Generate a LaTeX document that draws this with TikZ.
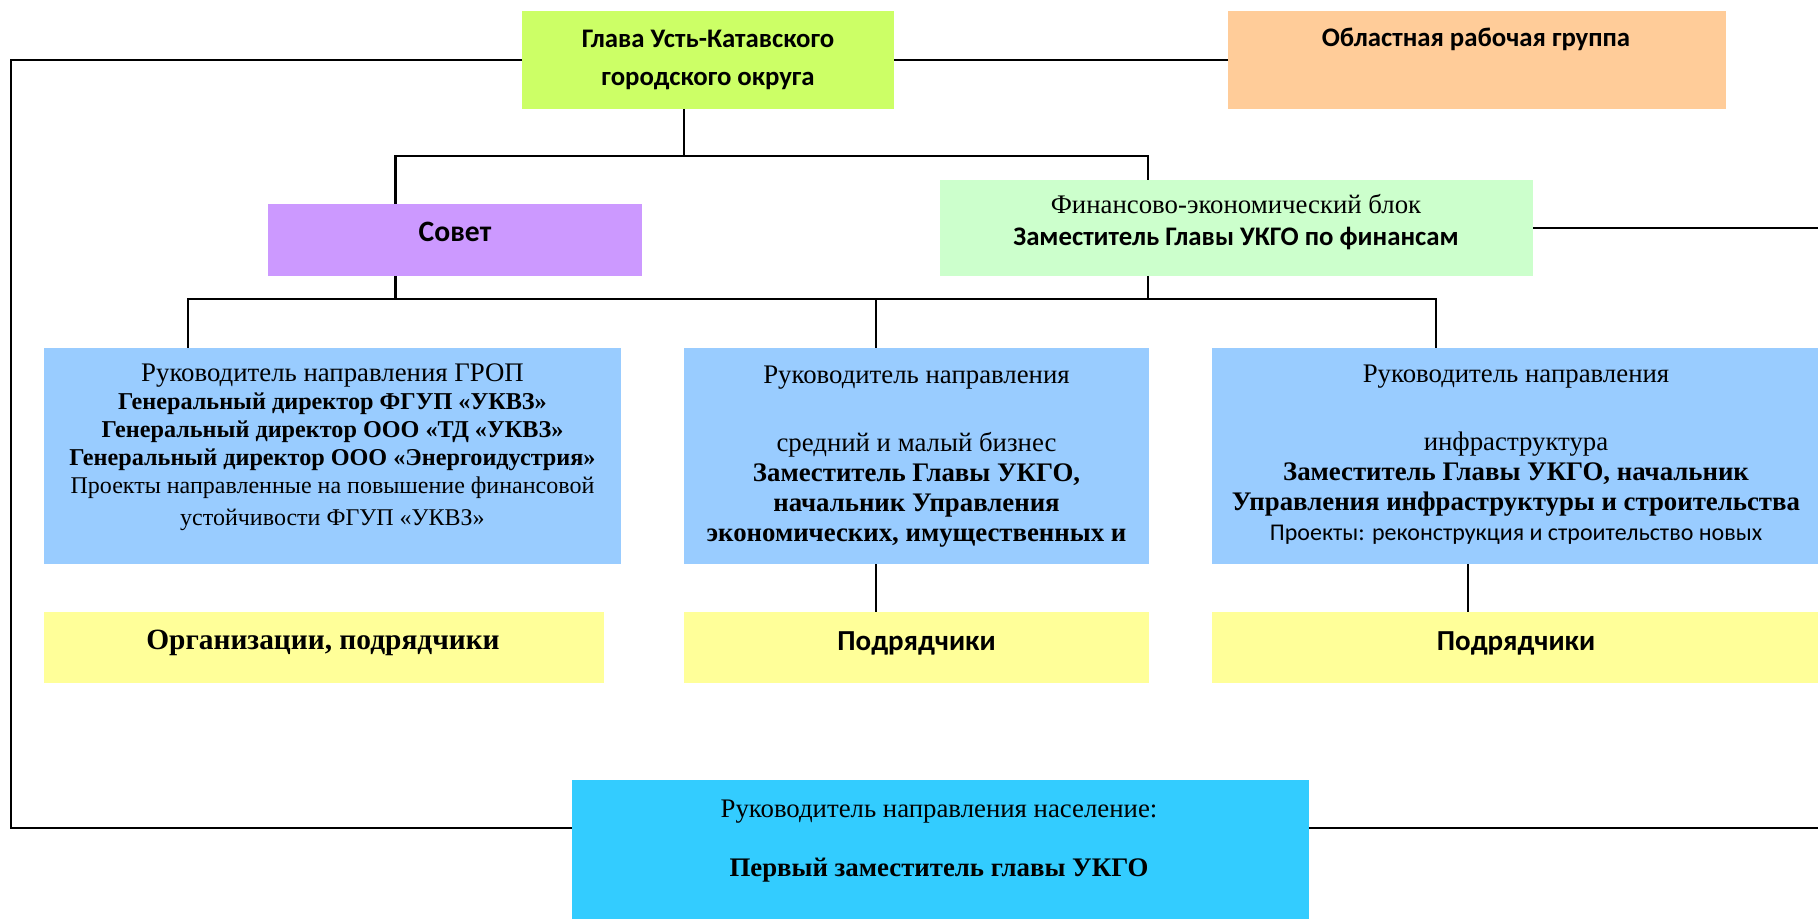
\documentclass[tikz,border=0pt]{standalone}
\usepackage{fontspec}
\setmainfont{Liberation Serif}
\newfontfamily\calibri{Carlito}
\definecolor{glavac}{HTML}{CCFF66}
\definecolor{oblc}{HTML}{FFCC99}
\definecolor{sovc}{HTML}{CC99FF}
\definecolor{finc}{HTML}{CCFFCC}
\definecolor{bluec}{HTML}{99CCFF}
\definecolor{yelc}{HTML}{FFFF99}
\definecolor{popc}{HTML}{33CCFF}
\begin{document}
\begin{tikzpicture}[x=0.5pt,y=-0.5pt,
  box/.style={inner sep=0pt, outer sep=0pt, anchor=north west, draw=none},
  conn/.style={line width=1.2pt, black, line join=miter},
  txt/.style={inner sep=0pt, outer sep=0pt, anchor=base, align=center}]
\useasboundingbox (0,0) rectangle (1818,919);
% boxes
\node[box, fill=glavac, minimum width=186pt, minimum height=49pt] (glava) at (522,11) {};
\node[box, fill=oblc, minimum width=249pt, minimum height=49pt] (oblast) at (1228,11) {};
\node[box, fill=sovc, minimum width=187pt, minimum height=36pt] (sovet) at (268,204) {};
\node[box, fill=finc, minimum width=296.5pt, minimum height=48pt] (fin) at (940,180) {};
\node[box, fill=bluec, minimum width=288.5pt, minimum height=108pt] (blue1) at (44,348) {};
\node[box, fill=bluec, minimum width=232.5pt, minimum height=108pt] (blue2) at (684,348) {};
\node[box, fill=bluec, minimum width=304pt, minimum height=108pt] (blue3) at (1212,348) {};
\node[box, fill=yelc, minimum width=280pt, minimum height=35.5pt] (yel1) at (44,612) {};
\node[box, fill=yelc, minimum width=232.5pt, minimum height=35.5pt] (yel2) at (684,612) {};
\node[box, fill=yelc, minimum width=304pt, minimum height=35.5pt] (yel3) at (1212,612) {};
\node[box, fill=popc, minimum width=368.5pt, minimum height=70pt] (popul) at (572,780) {};
% texts (anchor = baseline of the last line)
\node[txt, font=\calibri\bfseries\fontsize{13.4}{19}\selectfont] (tglava) at (708,86) {Глава Усть-Катавского\\городского округа};
\node[txt, font=\calibri\bfseries\fontsize{13.4}{15}\selectfont] (toblast) at (1476,46.7) {Областная рабочая группа};
\node[txt, font=\calibri\bfseries\fontsize{14.8}{16}\selectfont] (tsovet) at (455,241.7) {Совет};
\node[txt, font=\fontsize{13.4}{16.2}\selectfont] (tfin) at (1236,245.7) {Финансово-экономический блок\\{\calibri\bfseries\fontsize{13.4}{16.2}\selectfont Заместитель Главы УКГО по финансам}};
\node[txt, font=\fontsize{13.4}{14}\selectfont] (tblue1) at (332.5,525) {Руководитель направления ГРОП\\{\bfseries\fontsize{12.1}{14}\selectfont Генеральный директор ФГУП «УКВЗ»}\\{\bfseries\fontsize{12.1}{14}\selectfont Генеральный директор ООО «ТД «УКВЗ»}\\{\bfseries\fontsize{12.1}{14}\selectfont Генеральный директор ООО «Энергоидустрия»}\\{\fontsize{12}{14}\selectfont Проекты направленные на повышение финансовой}\\[2pt]{\fontsize{12}{14}\selectfont устойчивости ФГУП «УКВЗ»}};
\node[txt, font=\fontsize{13.4}{15}\selectfont] (tblue2) at (916.5,541.7) {Руководитель направления\\[19pt]средний и малый бизнес\\\textbf{Заместитель Главы УКГО,}\\\textbf{начальник Управления}\\\textbf{экономических, имущественных и}};
\node[txt, font=\fontsize{13.4}{15}\selectfont] (tblue3) at (1516,540.7) {Руководитель направления\\[19pt]инфраструктура\\\textbf{Заместитель Главы УКГО, начальник}\\\textbf{Управления инфраструктуры и строительства}\\{\calibri\fontsize{12}{15}\selectfont Проекты: реконструкция и строительство новых}};
\node[txt, font=\bfseries\fontsize{14.7}{17}\selectfont] (tyel1) at (323,649) {Организации, подрядчики};
\node[txt, font=\calibri\bfseries\fontsize{14.5}{16}\selectfont] (tyel2) at (916.5,650) {Подрядчики};
\node[txt, font=\calibri\bfseries\fontsize{14.5}{16}\selectfont] (tyel3) at (1516,650) {Подрядчики};
\node[txt, font=\fontsize{13.4}{15}\selectfont] (tpop) at (939,876.7) {Руководитель направления население:\\[14.85pt]{\bfseries\fontsize{13.4}{15}\selectfont Первый заместитель главы УКГО}};
% connector coordinates
\coordinate (bl) at (11,828);
\coordinate (br) at (1818,828);
\coordinate (re) at (1818,228);
\coordinate (bA) at (684,156);
\coordinate (bS) at (395.5,156);
\coordinate (bF) at (1148,156);
\coordinate (cS) at (395.5,299);
\coordinate (cF) at (1148,299);
\coordinate (c1) at (188,299);
\coordinate (c2) at (876,299);
\coordinate (c3) at (1436,299);
\coordinate (d3) at (1468,0);
% connectors
\draw[conn] (glava.west) -| (bl) -- (popul.west |- bl);
\draw[conn] (popul.east |- bl) -- (br);
\draw[conn] (glava.east) -- (oblast.west);
\draw[conn] (glava.south -| bA) -- (bA);
\draw[conn] (sovet.north -| bS) -- (bS) -- (bF) -- (fin.north -| bF);
\draw[conn] (fin.east) -- (re);
\draw[conn] (sovet.south -| cS) -- (cS);
\draw[conn] (fin.south -| cF) -- (cF);
\draw[conn] (blue1.north -| c1) -- (c1) -- (c3) -- (blue3.north -| c3);
\draw[conn] (c2) -- (blue2.north -| c2);
\draw[conn] (blue2.south -| c2) -- (yel2.north -| c2);
\draw[conn] (blue3.south -| d3) -- (yel3.north -| d3);
\end{tikzpicture}
\end{document}
